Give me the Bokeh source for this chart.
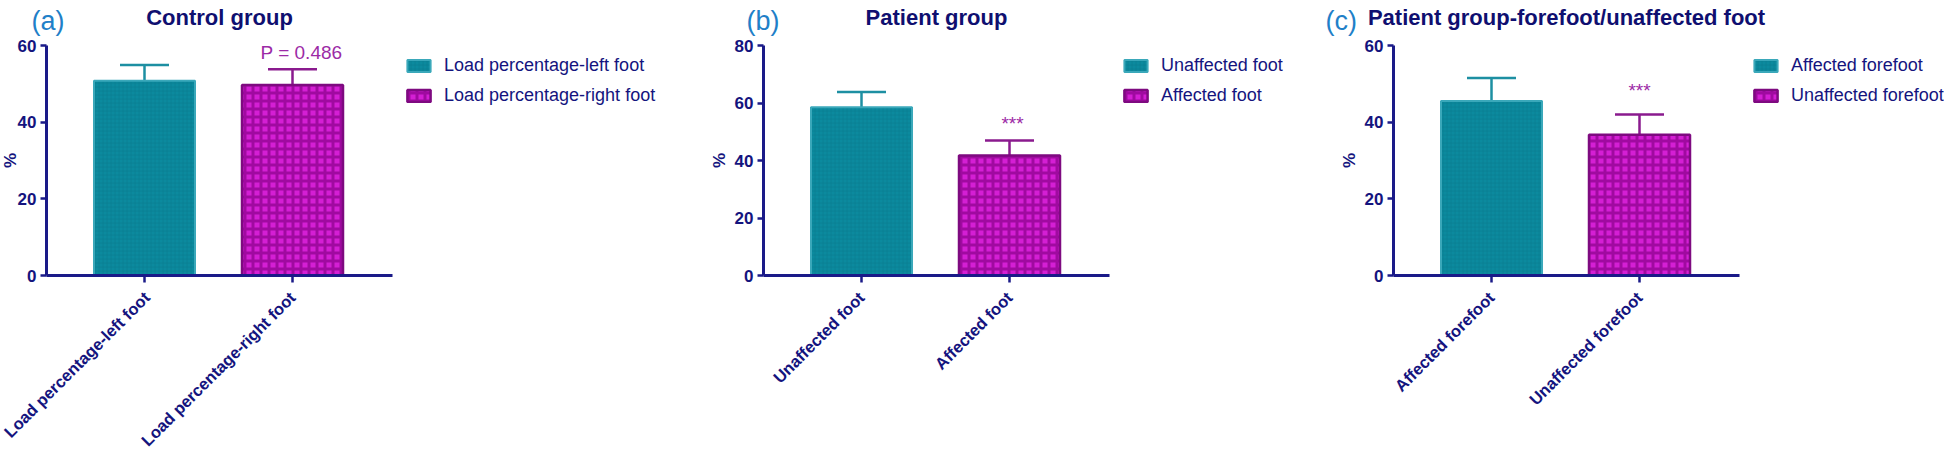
import math
from bokeh.plotting import figure
from bokeh.models import (ColumnDataSource, FixedTicker, Label, Legend, LegendItem,
                          Whisker, TeeHead, Range1d)
from bokeh.layouts import row
from bokeh.embed import file_html
from bokeh.resources import INLINE

# ------------------------------------------------------------------ data
panel_letters = ["(a)", "(b)", "(c)"]
panel_titles = ["Control group", "Patient group", "Patient group-forefoot/unaffected foot"]
categories_a = ["Load percentage-left foot", "Load percentage-right foot"]
categories_b = ["Unaffected foot", "Affected foot"]
categories_c = ["Affected forefoot", "Unaffected forefoot"]
means_a = [50.8, 49.7]
sd_a = [4.1, 4.1]
means_b = [58.5, 41.7]
sd_b = [5.3, 5.3]
means_c = [45.5, 36.7]
sd_c = [6.0, 5.3]
y_max = [60, 80, 60]
y_ticks = [[0, 20, 40, 60], [0, 20, 40, 60, 80], [0, 20, 40, 60]]
significance = ["P = 0.486", "***", "***"]
y_axis_label = "%"

# ------------------------------------------------------------------ style / layout (page pixels)
FONT = "Liberation Sans"
AXIS_COLOR = "#1a1a88"
TEXT_COLOR = "#14147e"
TITLE_COLOR = "#0f0f70"
LETTER_COLOR = "#1f80c8"
SIG_COLOR = "#9c2aa6"
TEAL_LINE = "#3aa8ba"
TEAL_ERR = "#1d8fa2"
MAG_LINE = "#7e0a80"
MAG_ERR = "#8a1a8e"

PAGE_TOP = 8
FIG_H = 448
AXIS_BOTTOM = 283          # page y of value 0
PLOT_H = 230               # px from 0 to y max
CAT_STEP = 148
LEFT_GAP = 98
RIGHT_GAP = 100
PLOT_W = LEFT_GAP + CAT_STEP + RIGHT_GAP
BAR_W_PX = 101
CAP_PX = 49
fig_left = [8, 700, 1320]
fig_right = [700, 1320, 1952]
axis_x = [54, 771, 1401]
letter_dx = [-15, -17, -68]
pct_dx = [-36, -44, -44]
sig_dx = [9, 3, 0]
sig_gap = [17, 17, 24]
LETTER_BASE = 28
TITLE_BASE = 25
LEGEND_DX = 358
LEGEND_TOP = 61
LEGEND_H = 53

bar_styles = [
    dict(fill_color="#0b8a9e", line_color=TEAL_LINE, line_width=2,
         hatch_pattern="cross", hatch_color="#087c8e", hatch_scale=4, hatch_weight=1, hatch_alpha=0.6),
    dict(fill_color="#d41fd4", line_color=MAG_LINE, line_width=2.5,
         hatch_pattern="cross", hatch_color="#930593", hatch_scale=8, hatch_weight=3, hatch_alpha=0.8),
]
err_colors = [TEAL_ERR, MAG_ERR]


def make_panel(i, cats, means, sds):
    ymax = y_max[i]
    ppy = PLOT_H / ymax
    xs = list(range(1, len(cats) + 1))
    W = fig_right[i] - fig_left[i]
    x_axis = 1 - LEFT_GAP / CAT_STEP

    def dx(page_x):
        return x_axis + (page_x - axis_x[i]) / CAT_STEP

    def dy(page_y):
        return (AXIS_BOTTOM - page_y) / ppy

    p = figure(width=W, height=FIG_H,
               x_range=Range1d(dx(fig_left[i]), dx(fig_right[i])),
               y_range=Range1d(dy(PAGE_TOP + FIG_H), dy(PAGE_TOP)),
               min_border=0, output_backend="svg", toolbar_location=None,
               outline_line_color=None, background_fill_color="white",
               border_fill_color="white")
    p.xgrid.visible = False
    p.ygrid.visible = False

    items = []
    for j in range(len(cats)):
        src = ColumnDataSource(dict(x=[xs[j]], top=[means[j]], upper=[means[j] + sds[j]]))
        p.add_layout(Whisker(source=src, base="x", lower="top", upper="upper",
                             dimension="height", line_color=err_colors[j], line_width=2.5,
                             upper_head=TeeHead(size=CAP_PX, line_color=err_colors[j],
                                                line_width=2.5),
                             lower_head=None))
        r = p.vbar(x="x", top="top", bottom=0, width=BAR_W_PX / CAT_STEP, source=src,
                   **bar_styles[j])
        items.append(LegendItem(label=cats[j], renderers=[r]))

    legend = Legend(items=items,
                    location=(axis_x[i] - fig_left[i] + LEGEND_DX,
                              PAGE_TOP + FIG_H - (LEGEND_TOP + LEGEND_H)),
                    orientation="vertical",
                    glyph_width=29, glyph_height=15, label_standoff=11, spacing=9,
                    padding=0, margin=0, border_line_alpha=0, background_fill_alpha=0,
                    label_text_font=FONT, label_text_font_size="18px",
                    label_text_color=TEXT_COLOR)
    p.add_layout(legend)

    # axes drawn at the plot's origin, limited to the plot region
    p.yaxis.fixed_location = x_axis
    p.xaxis.fixed_location = 0
    p.yaxis.bounds = (0, ymax)
    p.xaxis.bounds = (x_axis, x_axis + PLOT_W / CAT_STEP)
    p.yaxis.ticker = FixedTicker(ticks=y_ticks[i])
    p.xaxis.ticker = FixedTicker(ticks=xs)
    p.xaxis.major_label_overrides = {x: c for x, c in zip(xs, cats)}
    p.xaxis.major_label_orientation = math.pi / 4
    for ax in (p.xaxis, p.yaxis):
        ax.axis_line_color = AXIS_COLOR
        ax.axis_line_width = 3
        ax.major_tick_line_color = AXIS_COLOR
        ax.major_tick_line_width = 2.5
        ax.major_tick_in = 0
        ax.minor_tick_line_color = None
        ax.major_label_text_font = FONT
        ax.major_label_text_font_style = "bold"
        ax.major_label_text_color = TEXT_COLOR
    p.yaxis.major_label_text_font_size = "17px"
    p.xaxis.major_label_text_font_size = "16.5px"
    p.yaxis.major_tick_out = 6
    p.yaxis.major_label_standoff = 4
    p.xaxis.major_tick_out = 7
    p.xaxis.major_label_standoff = 12

    # y-axis label
    p.add_layout(Label(x=dx(axis_x[i] + pct_dx[i]), y=ymax / 2, text=y_axis_label,
                       angle=math.pi / 2, text_align="center", text_baseline="middle",
                       text_font=FONT, text_font_size="17px", text_font_style="bold",
                       text_color=TEXT_COLOR))
    # panel letter and title
    p.add_layout(Label(x=dx(axis_x[i] + letter_dx[i]), y=dy(LETTER_BASE),
                       text=panel_letters[i], text_align="left", text_baseline="alphabetic",
                       text_font=FONT, text_font_size="27px", text_color=LETTER_COLOR))
    p.add_layout(Label(x=dx(axis_x[i] + PLOT_W / 2), y=dy(TITLE_BASE),
                       text=panel_titles[i], text_align="center", text_baseline="alphabetic",
                       text_font=FONT, text_font_size="22px", text_font_style="bold",
                       text_color=TITLE_COLOR))
    # significance annotation over second bar
    p.add_layout(Label(x=xs[1] + sig_dx[i] / CAT_STEP,
                       y=means[1] + sds[1] + sig_gap[i] / ppy,
                       text=significance[i], text_align="center", text_baseline="middle",
                       text_font=FONT, text_font_size="19px", text_color=SIG_COLOR))
    return p


pa = make_panel(0, categories_a, means_a, sd_a)
pb = make_panel(1, categories_b, means_b, sd_b)
pc = make_panel(2, categories_c, means_c, sd_c)
layout = row(pa, pb, pc, spacing=0)

open("out.html", "w").write(file_html(layout, INLINE))
